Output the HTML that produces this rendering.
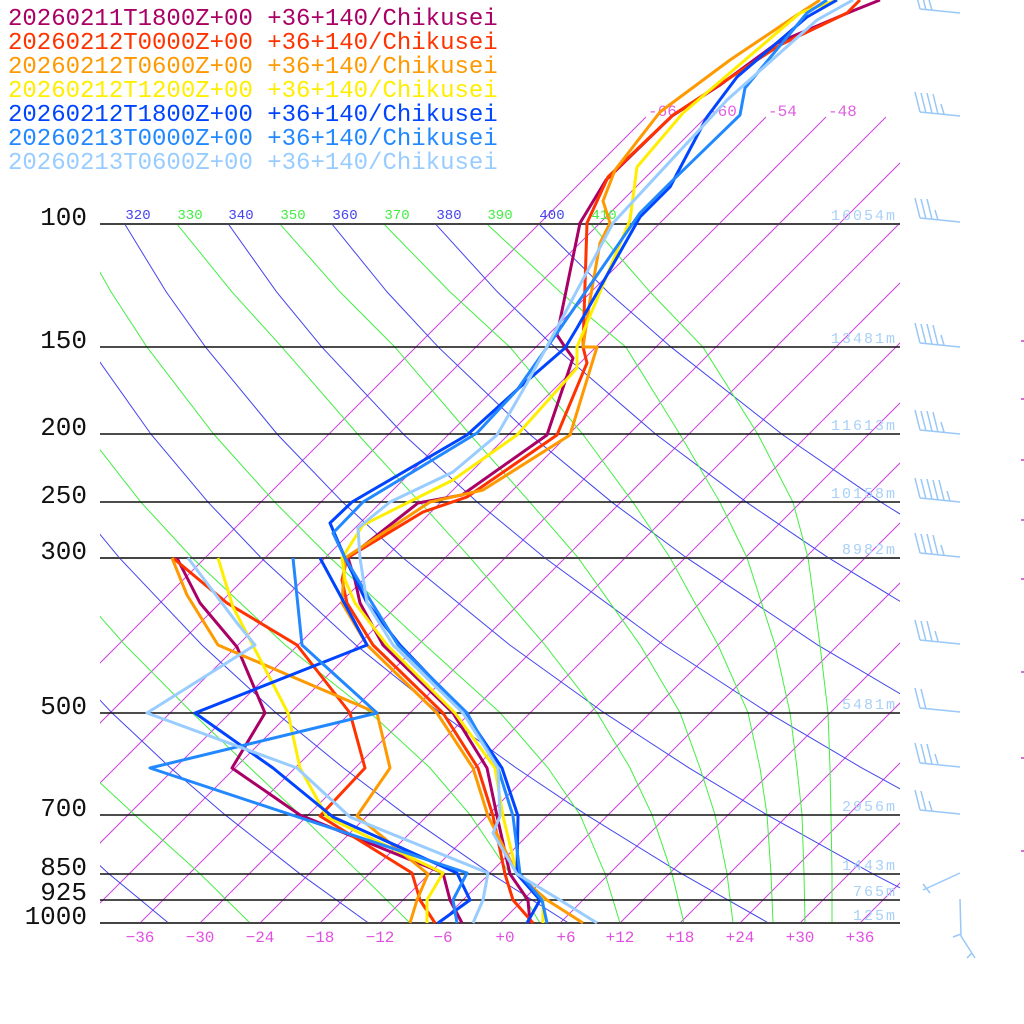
<!DOCTYPE html>
<html><head><meta charset="utf-8"><style>
html,body{margin:0;padding:0;background:#fff;}
svg{display:block;}
text{font-family:"Liberation Mono",monospace;}
</style></head><body>
<svg width="1024" height="1024" viewBox="0 0 1024 1024" xmlns="http://www.w3.org/2000/svg">
<defs>
<clipPath id="c1"><rect x="100" y="110" width="800" height="813"/></clipPath>
<clipPath id="c2"><rect x="100" y="224" width="800" height="699"/></clipPath>
<clipPath id="c3"><rect x="100" y="195" width="800" height="30"/></clipPath>
</defs>
<rect width="1024" height="1024" fill="#fff"/>
<g clip-path="url(#c1)" stroke="#cc44dd" stroke-width="1">
<line x1="646" y1="117" x2="-160" y2="923"/><line x1="706" y1="117" x2="-100" y2="923"/><line x1="766" y1="117" x2="-40" y2="923"/><line x1="826" y1="117" x2="20" y2="923"/><line x1="886" y1="117" x2="80" y2="923"/><line x1="946" y1="117" x2="140" y2="923"/><line x1="1006" y1="117" x2="200" y2="923"/><line x1="1066" y1="117" x2="260" y2="923"/><line x1="1126" y1="117" x2="320" y2="923"/><line x1="1186" y1="117" x2="380" y2="923"/><line x1="1246" y1="117" x2="440" y2="923"/><line x1="1306" y1="117" x2="500" y2="923"/><line x1="1366" y1="117" x2="560" y2="923"/><line x1="1426" y1="117" x2="620" y2="923"/><line x1="1486" y1="117" x2="680" y2="923"/><line x1="1546" y1="117" x2="740" y2="923"/><line x1="1606" y1="117" x2="800" y2="923"/><line x1="1666" y1="117" x2="860" y2="923"/>
</g>
<g font-size="16" fill="#e060e0">
<text x="648" y="116">-66</text><text x="708" y="116">-60</text><text x="768" y="116">-54</text><text x="828" y="116">-48</text>
</g>
<g clip-path="url(#c2)" fill="none" stroke-width="1">
<polyline stroke="#4444ee" points="-52.3,712.6 -2.4,767.9 44.3,814.7 108.8,873.7 168.5,923"/>
<polyline stroke="#4444ee" points="-22.7,557.6 47.8,644.9 111.7,712.6 170.5,767.9 224.9,814.7 299.8,873.7 368.5,923"/>
<polyline stroke="#4444ee" points="25,434.5 73.6,502.3 119.1,557.6 201.8,644.9 275.7,712.6 343.4,767.9 405.5,814.7 490.7,873.7 568.5,923"/>
<polyline stroke="#4444ee" points="21.2,224.1 55.8,291.9 89.3,347.2 151.2,434.5 208.2,502.3 260.9,557.6 355.7,644.9 439.8,712.6 516.2,767.9 586.1,814.7 681.6,873.7 768.5,923"/>
<polyline stroke="#4444ee" points="124.8,224.1 166.2,291.9 205.6,347.2 277.5,434.5 342.8,502.3 402.7,557.6 509.6,644.9 603.9,712.6 689,767.9 766.7,814.7 872.5,873.7 968.5,923"/>
<polyline stroke="#4444ee" points="228.4,224.1 276.6,291.9 322,347.2 403.7,434.5 477.4,502.3 544.5,557.6 663.6,644.9 767.9,712.6 861.8,767.9 947.3,814.7"/>
<polyline stroke="#4444ee" points="332,224.1 387,291.9 438.4,347.2 529.9,434.5 612,502.3 686.3,557.6 817.6,644.9 931.9,712.6"/>
<polyline stroke="#4444ee" points="435.6,224.1 497.4,291.9 554.8,347.2 656.1,434.5 746.6,502.3 828.1,557.6 971.6,644.9"/>
<polyline stroke="#4444ee" points="539.2,224.1 607.8,291.9 671.2,347.2 782.3,434.5 881.2,502.3 969.9,557.6"/>
<polyline stroke="#44ee44" points="-40,700 29.7,712.6 84,767.9 134.6,814.7 200,873.7 250,923"/>
<polyline stroke="#44ee44" points="6.3,502.3 48.2,557.6 125,644.9 192,712.6 250,767.9 300,814.7 360,873.7 410,923"/>
<polyline stroke="#44ee44" points="31.1,347.2 88.1,434.5 141,502.3 192,557.6 285,644.9 370,712.6 430,767.9 470,814.7 510,873.7 540,923"/>
<polyline stroke="#44ee44" points="73,224.1 111,291.9 147,347.2 214,434.5 275,502.3 330,557.6 425,644.9 500,712.6 548,767.9 580,814.7 605,873.7 620,923"/>
<polyline stroke="#44ee44" points="177,224.1 232,291.9 282,347.2 358,434.5 420,502.3 470,557.6 545,644.9 597,712.6 630,767.9 652,814.7 672,873.7 684,923"/>
<polyline stroke="#44ee44" points="280,224.1 340,291.9 395,347.2 470,434.5 530,502.3 578,557.6 640,644.9 680,712.6 700,767.9 715,814.7 727,873.7 733,923"/>
<polyline stroke="#44ee44" points="384,224.1 450,291.9 510,347.2 583,434.5 633,502.3 670,557.6 718,644.9 748,712.6 760,767.9 767,814.7 771,873.7 773,923"/>
<polyline stroke="#44ee44" points="487,224.1 560,291.9 626,347.2 680,434.5 720,502.3 747,557.6 775,644.9 790,712.6 797,767.9 802,814.7 804,873.7 805,923"/>
<polyline stroke="#44ee44" points="591,224.1 650,291.9 703,347.2 758,434.5 793,502.3 808,557.6 820,644.9 828,712.6 830,767.9 831,814.7 832,873.7 832,923"/>
</g>
<g clip-path="url(#c3)" font-size="14" text-anchor="middle">
<text x="86" y="219" fill="#44ee44">310</text><text x="138" y="219" fill="#4444ee">320</text><text x="190" y="219" fill="#44ee44">330</text><text x="241" y="219" fill="#4444ee">340</text><text x="293" y="219" fill="#44ee44">350</text><text x="345" y="219" fill="#4444ee">360</text><text x="397" y="219" fill="#44ee44">370</text><text x="449" y="219" fill="#4444ee">380</text><text x="500" y="219" fill="#44ee44">390</text><text x="552" y="219" fill="#4444ee">400</text><text x="604" y="219" fill="#44ee44">410</text>
</g>
<g stroke="#111" stroke-width="1.5">
<line x1="100" y1="224" x2="900" y2="224" stroke="#444" stroke-width="2"/>
<line x1="100" y1="347" x2="900" y2="347"/>
<line x1="100" y1="434" x2="900" y2="434"/>
<line x1="100" y1="502" x2="900" y2="502"/>
<line x1="100" y1="558" x2="900" y2="558" stroke="#444" stroke-width="2"/>
<line x1="100" y1="713" x2="900" y2="713"/>
<line x1="100" y1="815" x2="900" y2="815"/>
<line x1="100" y1="874" x2="900" y2="874"/>
<line x1="100" y1="900" x2="900" y2="900"/>
<line x1="100" y1="923" x2="900" y2="923" stroke="#444" stroke-width="2"/>
</g>
<g font-size="26" fill="#111" text-anchor="end">
<text x="87" y="225">100</text><text x="87" y="348">150</text><text x="87" y="435">200</text><text x="87" y="503">250</text><text x="87" y="559">300</text><text x="87" y="714">500</text><text x="87" y="816">700</text><text x="87" y="875">850</text><text x="87" y="900">925</text><text x="87" y="924">1000</text>
</g>
<g font-size="15" fill="#a8d0f8" text-anchor="end">
<text x="895" y="220" textLength="64">16054m</text><text x="895" y="343" textLength="64">13481m</text><text x="895" y="430" textLength="64">11613m</text><text x="895" y="498" textLength="64">10158m</text><text x="895" y="554" textLength="53">8982m</text><text x="895" y="709" textLength="53">5481m</text><text x="895" y="811" textLength="53">2956m</text><text x="895" y="870" textLength="53">1443m</text><text x="895" y="896" textLength="42">765m</text><text x="895" y="920" textLength="42">125m</text>
</g>
<g font-size="16" fill="#e050e0" text-anchor="middle">
<text x="140" y="942">−36</text><text x="200" y="942">−30</text><text x="260" y="942">−24</text><text x="320" y="942">−18</text><text x="380" y="942">−12</text><text x="443" y="942">−6</text><text x="505" y="942">+0</text><text x="566" y="942">+6</text><text x="620" y="942">+12</text><text x="680" y="942">+18</text><text x="740" y="942">+24</text><text x="800" y="942">+30</text><text x="860" y="942">+36</text>
</g>
<g fill="none" stroke-width="3" stroke-linejoin="round">
<polyline stroke="#aa0066" points="530,923 528,900 510,874 497,816 487,768 453,713 383,645 360,603 355,580 348,558 418,503 462,495 547,435 573,358 565,347 557,335 580,223 606,180 672,116 720,85 777,43 850,12 880,0"/>
<polyline stroke="#aa0066" points="462,923 450,900 443,873 300,815 232,768 265,713 237,647 200,603 177,558"/>
<polyline stroke="#ff3300" points="533,923 513,900 505,874 493,816 478,768 443,713 373,645 347,603 342,580 347,558 423,512 467,497 557,435 587,363 583,347 587,223 608,177 673,115 780,45 847,13 860,0"/>
<polyline stroke="#ff3300" points="435,923 420,900 412,873 320,816 365,768 350,713 297,645 227,603 173,558"/>
<polyline stroke="#ff9900" points="583,923 547,900 517,874 488,816 473,768 437,713 367,645 342,603 345,558 430,502 483,490 570,435 597,347 583,347 590,300 600,243 610,223 603,201 615,170 660,112 730,60 797,15 820,0"/>
<polyline stroke="#ff9900" points="410,923 417,900 428,874 357,816 390,768 377,713 218,645 187,595 172,558"/>
<polyline stroke="#ffee00" points="543,923 543,900 517,874 503,816 495,768 455,713 387,645 355,603 345,580 342,558 363,525 453,480 517,435 577,368 577,347 630,220 637,167 683,113 800,13 837,0"/>
<polyline stroke="#ffee00" points="427,923 427,900 443,873 327,817 300,768 288,713 233,607 218,558"/>
<polyline stroke="#0044ff" points="527,923 540,900 517,874 518,816 502,768 465,713 400,645 367,603 345,558 330,523 352,502 467,435 520,387 565,348 577,328 640,217 670,187 707,117 737,77 807,17 837,0"/>
<polyline stroke="#0044ff" points="438,923 470,900 457,873 333,817 273,768 195,713 367,645 320,558"/>
<polyline stroke="#2288ff" points="547,923 542,900 520,874 513,816 498,768 467,713 398,645 372,603 345,558 333,533 363,502 477,433 517,390 557,333 640,213 670,183 740,115 745,88 807,13 827,0"/>
<polyline stroke="#2288ff" points="457,923 453,900 467,873 150,768 377,713 302,645 293,558"/>
<polyline stroke="#99ccff" points="597,923 560,900 517,874 493,833 500,816 498,768 463,713 393,645 367,603 360,558 358,528 390,502 453,472 497,435 527,383 557,328 613,223 727,100 817,20 853,0"/>
<polyline stroke="#99ccff" points="473,923 483,900 488,873 350,817 297,768 147,713 255,645 237,623 188,558"/>
</g>
<g stroke="#99c8f8" stroke-width="1.5" fill="none">
<path d="M920,9L960,13M915,-11L920,9M921,-10L926,10M929,0L932,10"/>
<path d="M920,112L960,116M915,92L920,112M921,93L926,113M927,93L932,113M933,94L938,114M941,104L944,114"/>
<path d="M920,218L960,222M915,198L920,218M921,199L926,219M927,199L932,219M935,210L938,220"/>
<path d="M920,343L960,347M915,323L920,343M921,324L926,344M927,324L932,344M933,325L938,345M941,335L944,345"/>
<path d="M920,430L960,434M915,410L920,430M921,411L926,431M927,411L932,431M933,412L938,432M941,422L944,432"/>
<path d="M920,498L960,502M915,478L920,498M921,479L926,499M927,479L932,499M933,480L938,500M939,480L944,500M947,491L950,501"/>
<path d="M920,553L960,557M915,533L920,553M921,534L926,554M927,534L932,554M933,535L938,555M941,545L944,555"/>
<path d="M920,640L960,644M915,620L920,640M921,621L926,641M927,621L932,641M935,631L938,641"/>
<path d="M920,708L960,712M915,688L920,708M921,689L926,709"/>
<path d="M920,763L960,767M915,743L920,763M921,744L926,764M927,744L932,764M935,754L938,764"/>
<path d="M920,810L960,814M915,790L920,810M921,791L926,811M929,801L932,811"/>
<path d="M923,890L960,873M923,884L930,893"/>
<path d="M960,899L961,936L975,958M953,937L961,934M967,958L972,953"/>
</g>
<g stroke="#c040c0" stroke-width="1.5">
<path d="M1021,341H1024M1021,399H1024M1021,460H1024M1021,520H1024M1021,579H1024M1021,672H1024M1021,758H1024M1021,851H1024"/>
</g>
<g font-size="24">
<text x="8" y="25" fill="#aa0066">20260211T1800Z+00 +36+140/Chikusei</text>
<text x="8" y="49" fill="#ff3300">20260212T0000Z+00 +36+140/Chikusei</text>
<text x="8" y="73" fill="#ff9900">20260212T0600Z+00 +36+140/Chikusei</text>
<text x="8" y="97" fill="#ffee00">20260212T1200Z+00 +36+140/Chikusei</text>
<text x="8" y="121" fill="#0044ff">20260212T1800Z+00 +36+140/Chikusei</text>
<text x="8" y="145" fill="#2288ff">20260213T0000Z+00 +36+140/Chikusei</text>
<text x="8" y="169" fill="#99ccff">20260213T0600Z+00 +36+140/Chikusei</text>
</g>
</svg>
</body></html>
